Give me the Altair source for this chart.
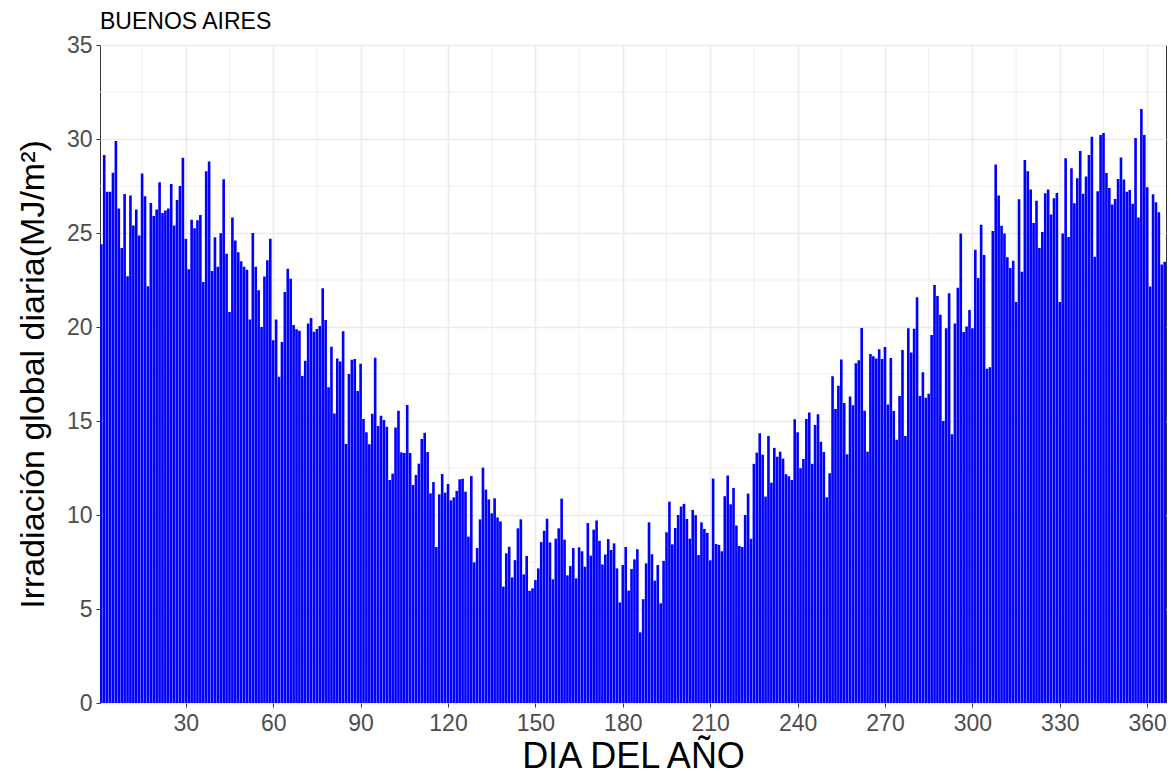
import altair as alt
import pandas as pd

# Daily global irradiation, Buenos Aires (MJ/m2), one value per day of year
days = list(range(1, 367))

irr_001_030 = [24.4, 29.15, 27.2, 27.2, 28.2, 29.9, 26.3, 24.2, 27.07, 22.7,
               27.0, 25.4, 26.25, 24.87, 28.17, 26.96, 22.17, 26.6, 25.9, 26.25,
               27.7, 26.06, 26.2, 26.3, 27.6, 25.4, 26.75, 27.5, 29.0, 24.7]
irr_031_060 = [23.07, 25.7, 25.25, 25.68, 25.96, 22.4, 28.28, 28.8, 22.98, 24.77,
               23.2, 24.99, 27.86, 23.9, 20.8, 25.82, 24.6, 23.97, 23.5, 23.2,
               23.05, 20.4, 25.0, 23.2, 21.95, 20.0, 22.68, 23.55, 24.7, 19.3]
irr_061_090 = [20.4, 17.36, 19.2, 21.86, 23.1, 22.57, 20.1, 19.88, 19.8, 17.4,
               18.2, 20.18, 20.48, 19.75, 19.9, 20.05, 22.06, 20.37, 16.8, 18.95,
               15.4, 18.33, 18.16, 19.77, 13.78, 17.5, 18.26, 18.3, 16.6, 18.05]
irr_091_120 = [15.1, 14.4, 13.76, 15.39, 18.37, 14.73, 15.28, 15.05, 14.7, 11.86,
               12.2, 14.66, 15.55, 13.33, 13.3, 15.85, 13.3, 11.6, 12.13, 12.73,
               14.04, 14.38, 13.35, 11.15, 11.75, 8.3, 11.1, 12.18, 11.19, 11.65]
irr_121_150 = [10.78, 10.94, 11.28, 11.9, 11.93, 11.24, 8.85, 12.07, 7.48, 8.24,
               9.77, 12.52, 11.35, 10.83, 10.09, 10.89, 9.87, 9.66, 6.19, 7.96,
               8.31, 6.68, 7.6, 9.29, 9.77, 6.84, 7.82, 5.97, 6.1, 6.54]
irr_151_180 = [7.16, 8.56, 9.16, 9.8, 8.54, 6.58, 8.74, 9.29, 10.87, 8.69,
               6.79, 7.29, 8.24, 6.63, 8.28, 8.07, 7.25, 9.57, 7.84, 9.22,
               9.71, 8.63, 7.37, 7.9, 8.72, 8.14, 8.49, 7.16, 5.35, 7.34]
irr_181_210 = [8.3, 5.98, 7.13, 7.64, 8.18, 3.76, 5.52, 7.43, 9.61, 7.91,
               6.51, 7.34, 5.3, 7.56, 9.08, 10.71, 8.44, 9.31, 10.0, 10.45,
               10.59, 9.79, 8.74, 10.27, 9.99, 7.87, 9.61, 9.26, 9.05, 7.59]
irr_211_240 = [11.94, 8.46, 8.41, 8.07, 11.0, 12.1, 10.57, 11.44, 9.44, 8.35,
               8.3, 10.0, 11.14, 8.73, 12.72, 13.32, 14.35, 13.21, 10.98, 14.2,
               11.72, 13.57, 13.1, 13.37, 13.0, 12.17, 12.06, 11.86, 15.09, 14.4]
irr_241_270 = [12.49, 12.98, 15.11, 15.45, 12.72, 14.79, 15.36, 13.89, 13.35, 10.94,
               12.22, 17.38, 15.64, 16.88, 18.27, 15.96, 13.23, 16.3, 15.84, 18.07,
               18.23, 19.95, 15.54, 13.37, 18.57, 18.44, 18.32, 18.82, 18.3, 18.94]
irr_271_300 = [15.88, 18.35, 15.53, 14.0, 16.33, 18.78, 14.2, 19.93, 18.65, 19.91,
               21.58, 16.33, 17.59, 16.24, 16.45, 19.57, 22.23, 21.65, 20.65, 15.0,
               19.93, 21.79, 14.3, 20.18, 22.09, 24.98, 19.73, 20.03, 20.9, 19.93]
irr_301_330 = [24.11, 22.61, 25.44, 23.83, 17.78, 17.86, 25.1, 28.64, 27.0, 25.39,
               24.97, 23.71, 23.14, 23.53, 21.33, 26.79, 22.94, 28.88, 28.28, 27.31,
               25.53, 26.72, 24.2, 25.05, 27.11, 27.32, 25.98, 26.85, 27.13, 21.33]
irr_331_366 = [24.98, 28.97, 24.79, 28.44, 26.58, 27.91, 29.36, 27.09, 28.0, 29.15,
               30.12, 23.74, 27.22, 30.21, 30.32, 28.19, 27.39, 26.52, 26.81, 27.87,
               29.01, 27.85, 27.2, 27.29, 26.56, 30.05, 25.82, 31.6, 30.21, 27.43,
               22.16, 27.06, 26.63, 26.1, 23.33, 23.47]

irradiation = (irr_001_030 + irr_031_060 + irr_061_090 + irr_091_120 +
               irr_121_150 + irr_151_180 + irr_181_210 + irr_211_240 +
               irr_241_270 + irr_271_300 + irr_301_330 + irr_331_366)

x_breaks = list(range(30, 361, 30))
x_minor = list(range(15, 346, 30))
y_breaks = list(range(0, 36, 5))
y_minor = [2.5 + 5 * i for i in range(7)]

FONT = "Liberation Sans"
GRID = "#EBEBEB"

df = pd.DataFrame({"dia": days, "irr": irradiation})

x_scale = alt.Scale(domain=[0.55, 366.45], nice=False, zero=False)
y_scale = alt.Scale(domain=[0, 35], nice=False)

x_axis = alt.Axis(values=x_breaks, title="DIA DEL AÑO", grid=True, gridColor=GRID,
                  gridWidth=1.6, domain=False, ticks=True, tickColor="#333333",
                  tickSize=4, tickWidth=1, labelFontSize=23, labelColor="#4D4D4D",
                  labelFont=FONT, labelPadding=5, titleFont=FONT, titleFontSize=36,
                  titleFontWeight="normal", titleColor="#000000",
                  titleBaseline="alphabetic", titleY=64)
y_axis = alt.Axis(values=y_breaks, title="Irradiación global diaria(MJ/m²)", grid=True,
                  gridColor=GRID, gridWidth=1.6, domain=False, ticks=True,
                  tickColor="#333333", tickSize=4, tickWidth=1, labelFontSize=23,
                  labelColor="#4D4D4D", labelFont=FONT, labelPadding=4,
                  titleFont=FONT, titleFontSize=34, titleFontWeight="normal",
                  titleColor="#000000", titleBaseline="alphabetic", titleX=-57)

# thin minor grid lines, drawn on the same scales as the bars
minor_x = alt.Chart(pd.DataFrame({"m": x_minor})).mark_rule(
    color=GRID, strokeWidth=0.8
).encode(x=alt.X("m:Q", scale=x_scale, axis=x_axis))

minor_y = alt.Chart(pd.DataFrame({"m": y_minor})).mark_rule(
    color=GRID, strokeWidth=0.8
).encode(y=alt.Y("m:Q", scale=y_scale, axis=y_axis))

bars = alt.Chart(df).transform_calculate(
    x0="datum.dia - 0.45", x1="datum.dia + 0.45"
).mark_rect(color="#0000FF").encode(
    x=alt.X("x0:Q", scale=x_scale, axis=x_axis),
    x2="x1:Q",
    y=alt.Y("irr:Q", scale=y_scale, axis=y_axis),
    y2=alt.datum(0),
)

chart = alt.layer(minor_x, minor_y, bars).properties(
    width=1066,
    height=658,
    autosize=alt.AutoSizeParams(type="none"),
    padding={"left": 100, "top": 45, "right": 5, "bottom": 68},
    title=alt.TitleParams("BUENOS AIRES", anchor="start", frame="group",
                          font=FONT, fontSize=23, fontWeight="normal",
                          color="#000000", offset=0),
    background="white",
).configure_view(stroke="#333333", strokeWidth=1)

chart.save("out.html", embed_options={"renderer": "svg", "actions": False})
